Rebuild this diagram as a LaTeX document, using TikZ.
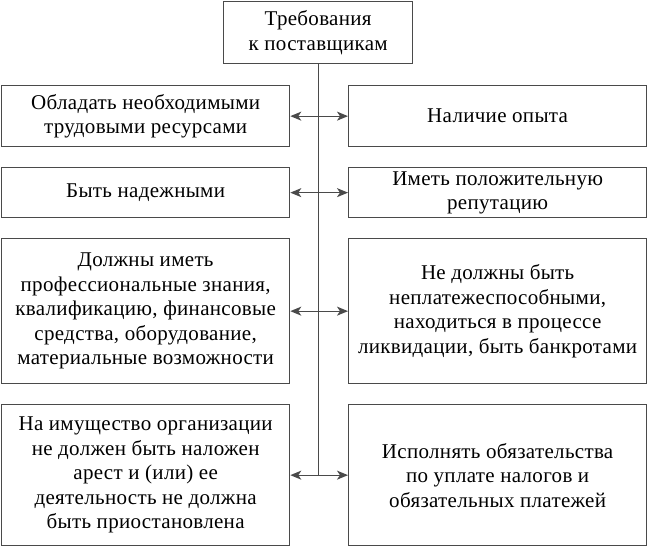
\documentclass[tikz,border=0pt]{standalone}
\usepackage{fontspec}
\setmainfont{Liberation Serif}[LetterSpace=1.5]
\usetikzlibrary{arrows.meta}
\definecolor{linec}{HTML}{4A4A4A}
\tikzset{
  box/.style={draw=linec, line width=1.3pt, anchor=north west, align=center, inner sep=0pt,
    font=\fontsize{21}{24.5}\selectfont, text=black},
  conn/.style={draw=linec, line width=1.3pt},
  biarrow/.style={conn, {Stealth[length=11pt,width=9pt,inset=3pt]}-{Stealth[length=11pt,width=9pt,inset=3pt]}}
}
\begin{document}
\begin{tikzpicture}[x=1pt,y=-1pt]
\useasboundingbox (0,0) rectangle (649,549);
\node[box, minimum width=189pt, minimum height=62pt] (top) at (223,1) {Требования\\к поставщикам};
\node[box, minimum width=288pt, minimum height=61pt] (L1) at (1,85) {Обладать необходимыми\\трудовыми ресурсами};
\node[box, minimum width=298pt, minimum height=61pt] (R1) at (348,85) {Наличие опыта};
\node[box, minimum width=288pt, minimum height=50pt] (L2) at (1,167) {Быть надежными};
\node[box, minimum width=298pt, minimum height=50pt] (R2) at (348,167) {Иметь положительную\\репутацию};
\node[box, minimum width=288pt, minimum height=145pt] (L3) at (1,238) {Должны иметь\\профессиональные знания,\\квалификацию, финансовые\\средства, оборудование,\\материальные возможности};
\node[box, minimum width=298pt, minimum height=145pt] (R3) at (348,238) {Не должны быть\\неплатежеспособными,\\находиться в процессе\\ликвидации, быть банкротами};
\node[box, minimum width=288pt, minimum height=141pt] (L4) at (1,404) {На имущество организации\\не должен быть наложен\\арест и (или) ее\\деятельность не должна\\быть приостановлена};
\node[box, minimum width=298pt, minimum height=141pt] (R4) at (348,404) {Исполнять обязательства\\по уплате налогов и\\обязательных платежей};
\coordinate (bend) at (top.south |- L4.east);
\draw[conn] (top.south) -- (bend);
\draw[biarrow] (L1.east) -- (R1.west);
\draw[biarrow] (L2.east) -- (R2.west);
\draw[biarrow] (L3.east) -- (R3.west);
\draw[biarrow] (L4.east) -- (R4.west);
\end{tikzpicture}
\end{document}
